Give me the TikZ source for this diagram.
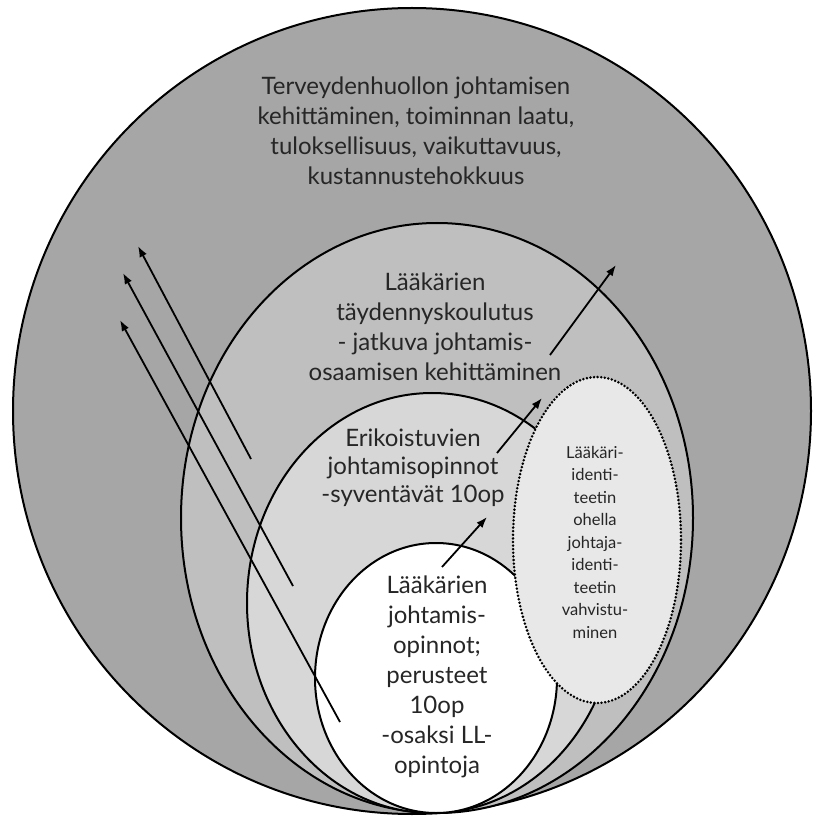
\documentclass[tikz,border=0pt]{standalone}
\usepackage{fontspec}
\setmainfont{Lato}
\usetikzlibrary{arrows.meta}
\definecolor{ringA}{HTML}{A6A6A6}
\definecolor{ringB}{HTML}{BFBFBF}
\definecolor{ringC}{HTML}{D7D7D7}
\definecolor{idfill}{HTML}{E8E8E8}
\definecolor{ink}{HTML}{262626}
\tikzset{
  ring/.style={draw=black, line width=2pt},
  idring/.style={draw=black, line width=2.8pt, line cap=round, dash pattern=on 0pt off 3.6pt, fill=idfill},
  label/.style={text=ink, align=center, inner sep=0pt, font=\fontsize{24}{30}\selectfont},
  smalllabel/.style={text=ink, align=center, inner sep=0pt, font=\fontsize{16.5}{22.5}\selectfont},
  flow/.style={draw=black, line width=1.8pt, -{Latex[length=11pt,width=8pt]}}
}
\begin{document}
\begin{tikzpicture}[x=1pt,y=-1pt]
\useasboundingbox (0,0) rectangle (825,818);
% nested ellipses, outer to inner
\fill[ringA, ring] (412,411) ellipse [x radius=399, y radius=403];
\fill[ringB, ring] (437,518) ellipse [x radius=256, y radius=295];
\fill[ringC, ring] (432,603) ellipse [x radius=185, y radius=210];
\fill[white, ring] (436,678) ellipse [x radius=121, y radius=135];
% identity ellipse with dotted border
\path[idring] (597,540) ellipse [x radius=84, y radius=163];

% texts
\node[label] (health) at (416,131) {Terveydenhuollon johtamisen\\kehittäminen, toiminnan laatu,\\tuloksellisuus, vaikuttavuus,\\kustannustehokkuus};
\node[label] (cont) at (435,327) {Lääkärien\\täydennyskoulutus\\- jatkuva johtamis-\\osaamisen kehittäminen};
\node[label, font=\fontsize{24}{28}\selectfont] (spec) at (413,468) {Erikoistuvien\\johtamisopinnot\\-syventävät 10op};
\node[label] (basic) at (437,677) {Lääkärien\\johtamis-\\opinnot;\\perusteet\\10op\\-osaksi LL-\\opintoja};
\node[smalllabel] (ident) at (595,542) {Lääkäri-\\identi-\\teetin\\ohella\\johtaja-\\identi-\\teetin\\vahvistu-\\minen};

% arrow end points
\coordinate (l1s) at (251,459); \coordinate (l1e) at (138,246);
\coordinate (l2s) at (293,586); \coordinate (l2e) at (123,273);
\coordinate (l3s) at (340,722); \coordinate (l3e) at (120,320);
\coordinate (r1s) at (442,567); \coordinate (r1e) at (487,517);
\coordinate (r2s) at (497,453); \coordinate (r2e) at (542,398);
\coordinate (r3s) at (550,355); \coordinate (r3e) at (616,265);

\draw[flow] (l1s) -- (l1e);
\draw[flow] (l2s) -- (l2e);
\draw[flow] (l3s) -- (l3e);
\draw[flow] (r1s) -- (r1e);
\draw[flow] (r2s) -- (r2e);
\draw[flow] (r3s) -- (r3e);
\end{tikzpicture}
\end{document}
